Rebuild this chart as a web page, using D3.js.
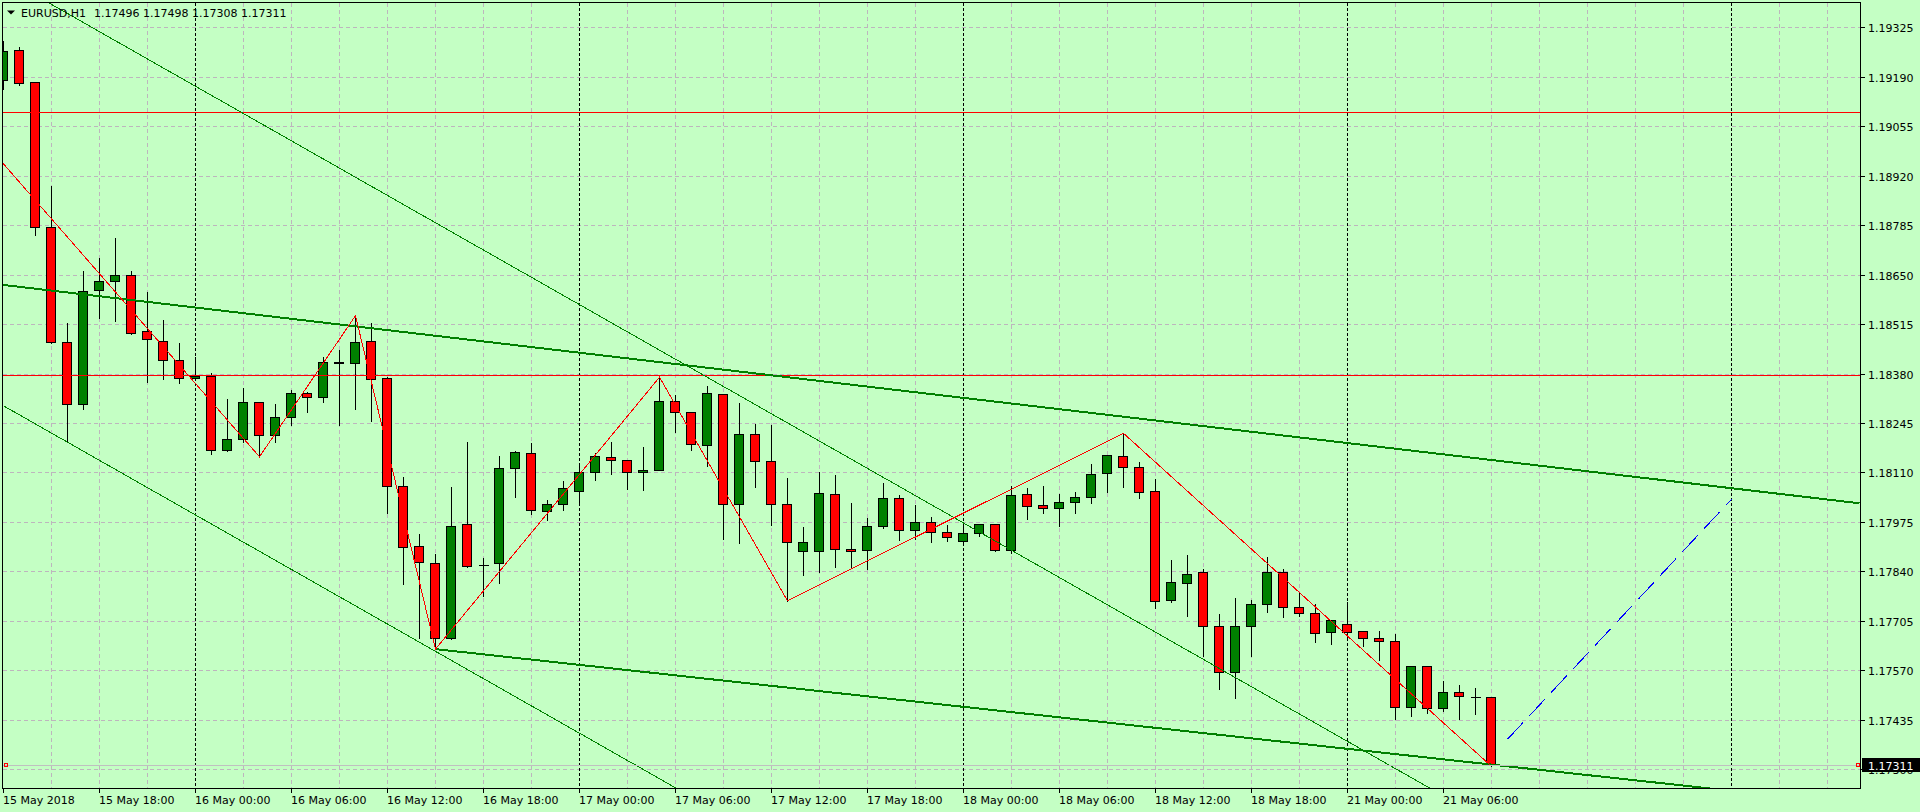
<!DOCTYPE html>
<html><head><meta charset="utf-8">
<script src="https://cdn.jsdelivr.net/npm/d3@7"></script>
<style>html,body{margin:0;padding:0;background:#c4ffc4;overflow:hidden}</style>
</head><body>
<svg id="chart" width="1920" height="812"></svg>
<script>
// ---------- DATA ----------
const symbolTitle = "EURUSD,H1";
const lastQuote = ["1.17496", "1.17498", "1.17308", "1.17311"];
const candleOpen = [1.19181,1.19263,1.19176,1.18779,1.18465,1.18296,1.18607,1.18632,1.18648,1.18495,
  1.18470,1.18416,1.18367,1.18373,1.18171,1.18201,1.18302,1.18212,1.18261,1.18326,
  1.18315,1.18411,1.18408,1.18469,1.18367,1.18072,1.17909,1.17862,1.17659,1.17969,
  1.17857,1.17862,1.18122,1.18162,1.18004,1.18023,1.18059,1.18111,1.18152,1.18143,
  1.18111,1.18116,1.18304,1.18274,1.18184,1.18323,1.18023,1.18214,1.18141,1.18023,
  1.17895,1.17895,1.18051,1.17900,1.17898,1.17963,1.18040,1.17952,1.17974,1.17947,
  1.17922,1.17944,1.17969,1.17898,1.18051,1.18021,1.18012,1.18029,1.18042,1.18108,
  1.18154,1.18124,1.18059,1.17761,1.17808,1.17838,1.17690,1.17565,1.17690,1.17750,
  1.17838,1.17742,1.17726,1.17674,1.17696,1.17677,1.17658,1.17649,1.17469,1.17581,
  1.17466,1.17510,1.17498,1.17496];
const candleHigh = [1.19290,1.19274,1.19178,1.18895,1.18520,1.18662,1.18699,1.18753,1.18662,1.18605,
  1.18529,1.18466,1.18428,1.18384,1.18313,1.18343,1.18306,1.18300,1.18338,1.18333,
  1.18428,1.18447,1.18538,1.18521,1.18373,1.18100,1.17944,1.17890,1.18074,1.18196,
  1.17880,1.18158,1.18172,1.18193,1.18038,1.18090,1.18132,1.18165,1.18195,1.18143,
  1.18182,1.18370,1.18324,1.18274,1.18348,1.18323,1.18302,1.18244,1.18242,1.18097,
  1.17964,1.18114,1.18106,1.18029,1.17988,1.18083,1.18051,1.18023,1.17991,1.17969,
  1.17969,1.17971,1.17972,1.18075,1.18070,1.18076,1.18053,1.18059,1.18135,1.18160,
  1.18217,1.18141,1.18096,1.17873,1.17888,1.17849,1.17727,1.17769,1.17765,1.17882,
  1.17849,1.17783,1.17754,1.17707,1.17759,1.17680,1.17679,1.17672,1.17583,1.17584,
  1.17544,1.17532,1.17525,1.17498];
const candleLow = [1.19156,1.19168,1.18759,1.18463,1.18196,1.18282,1.18533,1.18524,1.18487,1.18356,
  1.18366,1.18355,1.18365,1.18161,1.18170,1.18194,1.18153,1.18194,1.18240,1.18276,
  1.18302,1.18239,1.18284,1.18251,1.18000,1.17806,1.17659,1.17628,1.17656,1.17853,
  1.17774,1.17809,1.18044,1.17996,1.17980,1.18007,1.18029,1.18089,1.18105,1.18064,
  1.18061,1.18116,1.18221,1.18172,1.18129,1.17929,1.17918,1.18071,1.17967,1.17760,
  1.17831,1.17839,1.17851,1.17849,1.17848,1.17958,1.17927,1.17928,1.17921,1.17922,
  1.17914,1.17936,1.17896,1.17890,1.17984,1.18000,1.17965,1.18000,1.18028,1.18058,
  1.18071,1.18041,1.17741,1.17757,1.17719,1.17609,1.17518,1.17494,1.17610,1.17730,
  1.17717,1.17718,1.17648,1.17641,1.17658,1.17637,1.17598,1.17437,1.17445,1.17453,
  1.17459,1.17438,1.17451,1.17308];
const candleClose = [1.19261,1.19174,1.18779,1.18465,1.18296,1.18604,1.18632,1.18648,1.18492,1.18473,
  1.18416,1.18367,1.18373,1.18171,1.18201,1.18302,1.18212,1.18261,1.18326,1.18315,
  1.18411,1.18409,1.18465,1.18366,1.18072,1.17906,1.17865,1.17659,1.17963,1.17856,
  1.17857,1.18122,1.18165,1.18007,1.18024,1.18067,1.18111,1.18154,1.18143,1.18111,
  1.18116,1.18304,1.18274,1.18187,1.18326,1.18023,1.18214,1.18141,1.18023,1.17920,
  1.17920,1.18053,1.17900,1.17895,1.17963,1.18040,1.17952,1.17974,1.17947,1.17933,
  1.17944,1.17969,1.17898,1.18048,1.18018,1.18012,1.18029,1.18042,1.18105,1.18157,
  1.18124,1.18058,1.17759,1.17810,1.17832,1.17690,1.17565,1.17690,1.17750,1.17838,
  1.17742,1.17726,1.17671,1.17707,1.17674,1.17658,1.17649,1.17469,1.17581,1.17466,
  1.17510,1.17499,1.17496,1.17311];
const timeLabelIndex = [0,6,12,18,24,30,36,42,48,54,60,66,72,78,84,90];
const timeLabelText = ["15 May 2018","15 May 18:00","16 May 00:00","16 May 06:00","16 May 12:00",
  "16 May 18:00","17 May 00:00","17 May 06:00","17 May 12:00","17 May 18:00","18 May 00:00",
  "18 May 06:00","18 May 12:00","18 May 18:00","21 May 00:00","21 May 06:00"];
const daySeparatorIndex = [12,36,60,84,108];
const priceTicks = [1.17300,1.17435,1.17570,1.17705,1.17840,1.17975,1.18110,1.18245,
  1.18380,1.18515,1.18650,1.18785,1.18920,1.19055,1.19190,1.19325];
const levelLines = [1.19093, 1.18377];
const bidPrice = 1.17311;
const zigzagIndex = [-1,16,22,27,41,49,70,93];
const zigzagPrice = [1.19002,1.18153,1.18538,1.17628,1.18370,1.17760,1.18217,1.17308];
const thickChannelIndex = [[-1,116],[27,120]];
const thickChannelPrice = [[1.18627,1.18026],[1.17628,1.17184]];
const thinChannelIndex = [[0,100],[0,50]];
const thinChannelPrice = [[1.19462,1.16979],[1.18292,1.17051]];
const forecastIndex = [94,108];
const forecastPrice = [1.17382,1.18037];

// ---------- LAYOUT ----------
const W = 1920, H = 812;
const L = 2.5, R = 1860.5, T = 2.5, B = 788.5;
const nSlots = 116;
const x = d3.scaleLinear().domain([0, nSlots]).range([3.5, 3.5 + 16 * nSlots]);
const y = d3.scaleLinear().domain([1.17300, 1.19325]).range([769.3, 27.3]);
const py = v => Math.round(y(v)) + 0.5;

const svg = d3.select("#chart");
const BG = "#c4ffc4", GRID = "#bdb5bd", FONT = "'DejaVu Sans', sans-serif";
svg.append("rect").attr("width", W).attr("height", H).attr("fill", BG);

svg.append("defs").append("clipPath").attr("id", "plot")
  .append("rect").attr("x", 3).attr("y", 3).attr("width", R - 3.5).attr("height", B - 3.5);

const plot = svg.append("g").attr("clip-path", "url(#plot)").attr("shape-rendering", "crispEdges");

// grid
plot.append("g").selectAll("line").data(priceTicks).join("line")
  .attr("x1", L).attr("x2", R).attr("y1", d => py(d)).attr("y2", d => py(d))
  .attr("stroke", GRID).attr("stroke-dasharray", "4,3");
const vGrid = d3.range(3, nSlots + 1, 3).filter(i => !daySeparatorIndex.includes(i));
plot.append("g").selectAll("line").data(vGrid).join("line")
  .attr("x1", d => x(d)).attr("x2", d => x(d)).attr("y1", T).attr("y2", B)
  .attr("stroke", GRID).attr("stroke-dasharray", "4,3");
plot.append("g").selectAll("line").data(daySeparatorIndex).join("line")
  .attr("x1", d => x(d)).attr("x2", d => x(d)).attr("y1", T).attr("y2", B)
  .attr("stroke", "#000").attr("stroke-dasharray", "3,2");

// candles
const candles = candleOpen.map((o, i) => ({i, o, h: candleHigh[i], l: candleLow[i], c: candleClose[i]}));
const cg = plot.append("g");
candles.forEach(d => {
  const cx = x(d.i);
  cg.append("line").attr("x1", cx).attr("x2", cx).attr("y1", py(d.h)).attr("y2", py(d.l))
    .attr("stroke", "#000");
  const top = py(Math.max(d.o, d.c)), bot = py(Math.min(d.o, d.c));
  if (bot - top < 1) {
    cg.append("line").attr("x1", cx - 5).attr("x2", cx + 5).attr("y1", top).attr("y2", top)
      .attr("stroke", "#000");
  } else {
    cg.append("rect").attr("x", cx - 5).attr("y", top).attr("width", 9).attr("height", bot - top)
      .attr("fill", d.c >= d.o ? "#008000" : "#ff0000").attr("stroke", "#000");
  }
});

// horizontal level lines
plot.append("g").selectAll("line").data(levelLines).join("line")
  .attr("x1", L).attr("x2", R).attr("y1", d => py(d)).attr("y2", d => py(d))
  .attr("stroke", "#ff0000");

// channels
const lineGen = d3.line().x(d => x(d[0])).y(d => y(d[1]));
thickChannelIndex.forEach((ix, k) => {
  plot.append("path").attr("d", lineGen([[ix[0], thickChannelPrice[k][0]], [ix[1], thickChannelPrice[k][1]]]))
    .attr("stroke", "#008000").attr("stroke-width", 2).attr("fill", "none");
});
thinChannelIndex.forEach((ix, k) => {
  plot.append("path").attr("d", lineGen([[ix[0], thinChannelPrice[k][0]], [ix[1], thinChannelPrice[k][1]]]))
    .attr("stroke", "#008000").attr("stroke-width", 1).attr("fill", "none");
});

// zigzag
plot.append("path").attr("d", lineGen(zigzagIndex.map((d, i) => [d, zigzagPrice[i]])))
  .attr("stroke", "#ff0000").attr("fill", "none");

// forecast dashed line
plot.append("path").attr("d", lineGen(forecastIndex.map((d, i) => [d, forecastPrice[i]])))
  .attr("stroke", "#0000ff").attr("fill", "none").attr("stroke-dasharray", "23,9");

// bid line
plot.append("line").attr("x1", L).attr("x2", R).attr("y1", py(bidPrice)).attr("y2", py(bidPrice))
  .attr("stroke", "#c0c0c0");
[4, R - 4.5].forEach(xx => {
  svg.append("rect").attr("x", xx).attr("y", py(bidPrice) - 2).attr("width", 3).attr("height", 3)
    .attr("fill", "none").attr("stroke", "#ff0000").attr("shape-rendering", "crispEdges");
});

// frame
svg.append("rect").attr("x", L).attr("y", T).attr("width", R - L).attr("height", B - T)
  .attr("fill", "none").attr("stroke", "#000").attr("shape-rendering", "crispEdges");

// price axis
const ax = svg.append("g");
priceTicks.forEach(p => {
  ax.append("line").attr("x1", R).attr("x2", R + 4).attr("y1", py(p)).attr("y2", py(p))
    .attr("stroke", "#000").attr("shape-rendering", "crispEdges");
  ax.append("text").attr("x", 1868).attr("y", py(p) + 4).text(p.toFixed(5))
    .attr("font-family", FONT).attr("font-size", 11).attr("fill", "#000");
});
// bid label
ax.append("rect").attr("x", 1862).attr("y", py(bidPrice) - 7.5).attr("width", 58).attr("height", 14)
  .attr("fill", "#000");
ax.append("text").attr("x", 1868).attr("y", py(bidPrice) + 4).text(bidPrice.toFixed(5))
  .attr("font-family", FONT).attr("font-size", 11).attr("fill", "#fff");

// time axis
timeLabelIndex.forEach((ti, k) => {
  ax.append("line").attr("x1", x(ti)).attr("x2", x(ti)).attr("y1", B).attr("y2", B + 4)
    .attr("stroke", "#000").attr("shape-rendering", "crispEdges");
  ax.append("text").attr("x", x(ti) - 0.5).attr("y", 803.5).text(timeLabelText[k])
    .attr("font-family", FONT).attr("font-size", 11).attr("fill", "#000");
});

// header
svg.append("path").attr("d", "M7,10.5 L15,10.5 L11,14.5 Z").attr("fill", "#000");
svg.append("text").attr("x", 21).attr("y", 17).text(symbolTitle)
  .attr("font-family", FONT).attr("font-size", 11).attr("fill", "#000");
svg.append("text").attr("x", 94).attr("y", 17).text(lastQuote.join(" "))
  .attr("font-family", FONT).attr("font-size", 11).attr("fill", "#000");
</script>
</body></html>
